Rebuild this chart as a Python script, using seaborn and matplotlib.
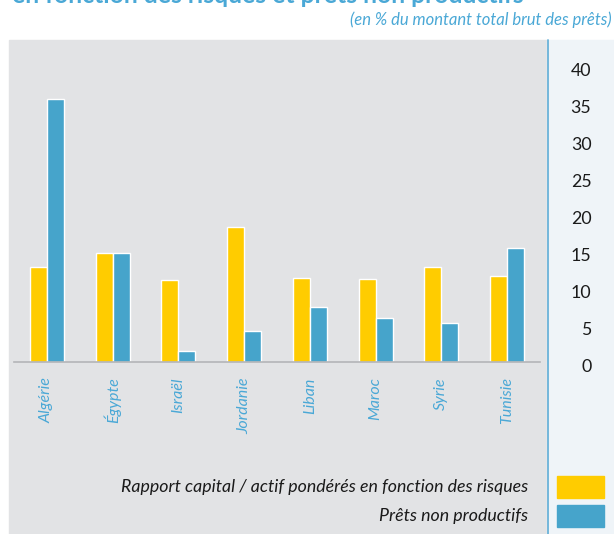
import pandas as pd
import matplotlib.pyplot as plt
import matplotlib.patches as mpatches
import matplotlib.transforms as mtransforms
import seaborn as sns

# --- DONNEES ---
PAYS = ["Algérie", "Égypte", "Israël", "Jordanie", "Liban", "Maroc", "Syrie", "Tunisie"]
RAPPORT_CAPITAL = [12.9, 14.8, 11.1, 18.3, 11.4, 11.3, 12.9, 11.7]
PRETS_NON_PROD = [35.7, 14.8, 1.5, 4.2, 7.5, 6.0, 5.3, 15.5]
SERIES = ["Rapport capital / actif pondérés en fonction des risques", "Prêts non productifs"]
Y_TICKS = [0, 5, 10, 15, 20, 25, 30, 35, 40]

JAUNE = "#ffcc00"
BLEU = "#46a4cb"
GRIS = "#e2e3e5"
PANNEAU = "#eff4f8"
TEXTE_BLEU = "#4aa8d6"

df = pd.DataFrame({
    "pays": PAYS * 2,
    "valeur": RAPPORT_CAPITAL + PRETS_NON_PROD,
    "serie": [SERIES[0]] * len(PAYS) + [SERIES[1]] * len(PAYS),
})

sns.set_style("white")
plt.rcParams["font.family"] = ["Lato", "DejaVu Sans"]

W, H = 614, 534
fig = plt.figure(figsize=(W / 100, H / 100), dpi=100)
fig.patch.set_facecolor("white")

def px(x0, y0, w, h):
    # pixel box (top-left origin) -> figure fraction
    return (x0 / W, 1 - (y0 + h) / H, w / W, h / H)

# fonds
fig.patches.append(mpatches.Rectangle(px(9, 40, 538, 494)[:2], 538 / W, 494 / H,
                                      transform=fig.transFigure, color=GRIS, zorder=0))
fig.patches.append(mpatches.Rectangle(px(547, 40, 67, 494)[:2], 67 / W, 494 / H,
                                      transform=fig.transFigure, color=PANNEAU, zorder=0))
fig.lines.append(plt.Line2D([547.5 / W, 547.5 / W], [0, 1 - 40 / H], transform=fig.transFigure,
                            color="#6ab2d8", lw=1.3, zorder=1))

# titre (coupé en haut) et sous-titre
fig.text(12 / W, 1 - 3 / H, "en fonction des risques et prêts non productifs", color=TEXTE_BLEU,
         fontsize=17.8, fontweight="bold", ha="left", va="baseline")
fig.text(612 / W, 1 - 20 / H, "(en % du montant total brut des prêts)", color=TEXTE_BLEU,
         fontsize=12.0, style="italic", ha="right", va="center")

ax = fig.add_axes(px(14, 67, 526, 295))
ax.set_facecolor("none")
ax.set_zorder(3)
sns.barplot(data=df, x="pays", y="valeur", hue="serie", palette=[JAUNE, BLEU],
            width=0.52, gap=0, saturation=1, legend=False, ax=ax)

ax.set_xlim(-0.5, len(PAYS) - 0.5)
ax.set_ylim(0, 40)
ax.set_yticks(Y_TICKS)
ax.yaxis.tick_right()
ax.tick_params(axis="y", length=0, pad=37, labelsize=12.8, labelcolor="#1a1a1a")
decal = mtransforms.ScaledTranslation(0, -3 / 100, fig.dpi_scale_trans)
for lab in ax.get_yticklabels():
    lab.set_horizontalalignment("right")
    lab.set_transform(lab.get_transform() + decal)
ax.tick_params(axis="x", length=0, pad=11, labelsize=11.5, labelcolor=TEXTE_BLEU, rotation=90)
for lab in ax.get_xticklabels():
    lab.set_style("italic")
ax.set_xlabel("")
ax.set_ylabel("")
for s in ["top", "left", "right"]:
    ax.spines[s].set_visible(False)
ax.spines["bottom"].set_color("#b4b5b8")
ax.spines["bottom"].set_linewidth(1.2)

# légende
for i, (nom, col) in enumerate(zip(SERIES, [JAUNE, BLEU])):
    y0 = 476 + i * 29
    fig.patches.append(mpatches.Rectangle(px(557, y0, 47, 22)[:2], 47 / W, 22 / H,
                                          transform=fig.transFigure, color=col, zorder=2))
    fig.text(528 / W, 1 - (y0 + 11) / H, nom, fontsize=12.8, style="italic", color="#1a1a1a",
             ha="right", va="center")

fig.savefig("out.png", dpi=100, facecolor=fig.get_facecolor())
